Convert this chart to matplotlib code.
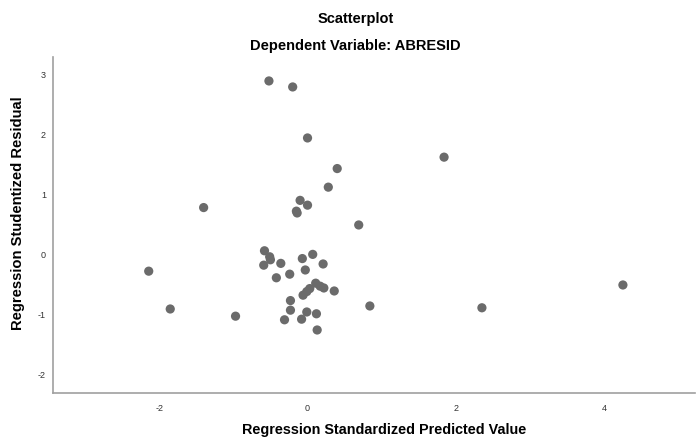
import matplotlib
matplotlib.use("Agg")
import matplotlib.pyplot as plt

plt.rcParams['font.family'] = ['Liberation Sans', 'DejaVu Sans']
plt.rcParams['axes.unicode_minus'] = False

predicted = [-0.52, -0.20, 0.00, 0.40, 0.28, 1.84, -1.40, -0.10, 0.00, -0.14, -0.15, 0.69,
             4.25, 2.35, 0.84, -2.14, -1.85, -0.97,
             -0.58, -0.51, -0.50, -0.59, -0.36, -0.07, 0.07, 0.21, -0.42, -0.24, -0.03,
             0.11, 0.17, 0.22, 0.36, 0.03, -0.01, -0.06, -0.23, -0.23, -0.31, -0.01,
             0.12, -0.08, 0.13]
residual = [2.90, 2.80, 1.95, 1.44, 1.13, 1.63, 0.79, 0.91, 0.83, 0.70, 0.73, 0.50,
            -0.50, -0.88, -0.85, -0.27, -0.90, -1.02,
            0.07, -0.03, -0.08, -0.17, -0.14, -0.06, 0.01, -0.15, -0.38, -0.32, -0.25,
            -0.47, -0.52, -0.55, -0.60, -0.56, -0.61, -0.67, -0.76, -0.92, -1.08, -0.95,
            -0.98, -1.07, -1.25]
x_ticks = [-2, 0, 2, 4]
y_ticks = [-2, -1, 0, 1, 2, 3]

fig = plt.figure(figsize=(7, 4.37), dpi=100)
ax = fig.add_axes([0.0757, 0.1007, 0.917, 0.769])
ax.scatter(predicted, residual, s=44, color='#6b6b6b', edgecolors='none', zorder=3)

ax.set_xlim(-3.43, 5.22)
ax.set_ylim(-2.3, 3.3)
ax.set_xticks(x_ticks)
ax.set_yticks(y_ticks)
ax.tick_params(axis='x', length=0, labelsize=6.5, labelcolor='#333333', pad=8)
ax.tick_params(axis='y', length=0, labelsize=6.5, labelcolor='#333333', pad=5)
for s in ['top', 'right']:
    ax.spines[s].set_visible(False)
for s in ['left', 'bottom']:
    ax.spines[s].set_color('#a0a0a0')
    ax.spines[s].set_linewidth(1.2)

fig.text(0.5486, 7 / 437, 'Regression Standardized Predicted Value', ha='center', va='center',
         fontsize=10.4, fontweight='bold')
fig.text(18 / 700, 1 - 213 / 437, 'Regression Studentized Residual', ha='center', va='center',
         rotation=90, fontsize=10.6, fontweight='bold')

fig.text(0.508, 1 - 19 / 437, 'Scatterplot', ha='center', va='center', fontsize=10.5, fontweight='bold')
fig.text(0.508, 1 - 46 / 437, 'Dependent Variable: ABRESID', ha='center', va='center', fontsize=10.5, fontweight='bold')

fig.savefig('out.png', dpi=100)
